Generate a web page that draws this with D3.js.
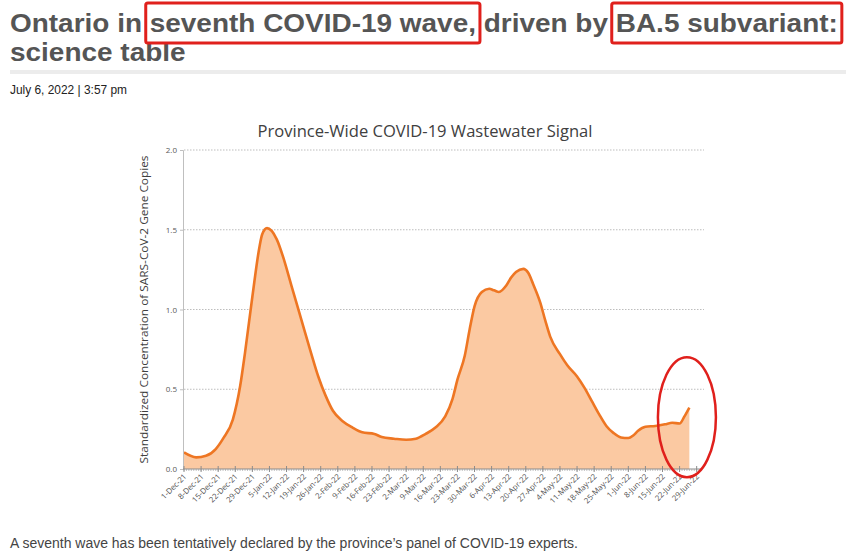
<!DOCTYPE html>
<html lang="en">
<head>
<meta charset="UTF-8">
<title>Province-Wide COVID-19 Wastewater Signal</title>
<style>
  html, body { margin: 0; padding: 0; background: #fff; }
  svg { display: block; }
  .grid line { stroke: #bdbdbd; stroke-dasharray: 1.5,1.5; }
  .ylab { font: 8px "Open Sans", sans-serif; fill: #595959; }
  .xlab { font: 7.8px "Open Sans", sans-serif; fill: #505050; }
</style>
</head>
<body>
<script src="https://d3js.org/d3.v7.min.js"></script>
<script>
// wastewater signal
const dates = [
  "2021-12-01","2021-12-06","2021-12-10","2021-12-14","2021-12-17","2021-12-21",
  "2021-12-24","2021-12-26","2021-12-29","2022-01-01","2022-01-02","2022-01-04",
  "2022-01-08","2022-01-11","2022-01-14","2022-01-18","2022-01-22","2022-01-25",
  "2022-01-28","2022-01-31","2022-02-04","2022-02-08","2022-02-12","2022-02-17",
  "2022-02-20","2022-02-25","2022-03-02","2022-03-06","2022-03-10","2022-03-14",
  "2022-03-18","2022-03-21","2022-03-23","2022-03-26","2022-03-28","2022-03-30",
  "2022-04-02","2022-04-05","2022-04-07","2022-04-09","2022-04-12","2022-04-14",
  "2022-04-16","2022-04-19","2022-04-21","2022-04-23","2022-04-26","2022-04-28",
  "2022-04-30","2022-05-04","2022-05-07","2022-05-11","2022-05-14","2022-05-17",
  "2022-05-20","2022-05-23","2022-05-26","2022-05-29","2022-06-01","2022-06-03",
  "2022-06-05","2022-06-08","2022-06-12","2022-06-16","2022-06-19","2022-06-22",
  "2022-06-24","2022-06-26"
];
const signal = [
  0.104,0.073,0.083,0.125,0.19,0.31,
  0.52,0.73,1.08,1.40,1.47,1.51,
  1.44,1.31,1.15,0.94,0.73,0.58,
  0.46,0.365,0.30,0.26,0.23,0.22,
  0.20,0.19,0.183,0.19,0.22,0.26,
  0.33,0.44,0.56,0.71,0.875,1.02,
  1.11,1.13,1.12,1.11,1.15,1.20,
  1.235,1.255,1.23,1.16,1.04,0.93,
  0.83,0.72,0.65,0.58,0.51,0.427,
  0.344,0.27,0.225,0.198,0.194,0.21,
  0.24,0.265,0.27,0.28,0.29,0.285,
  0.33,0.385
];
const yTicks = [0, 0.5, 1.0, 1.5, 2.0];
const xStart = "2021-12-01", xEnd = "2022-07-02", lastLabel = "2022-06-29";

const headline = [
  ["Ontario in ", false],
  ["seventh COVID-19 wave,", true],
  [" driven by ", false],
  ["BA.5 subvariant:", true]
];
const headline2 = "science table";
const byline = "July 6, 2022 | 3:57 pm";
const caption = "A seventh wave has been tentatively declared by the province\u2019s panel of COVID-19 experts.";
const chartTitle = "Province-Wide COVID-19 Wastewater Signal";
const yTitle = "Standardized Concentration of SARS-CoV-2 Gene Copies";

const W = 853, H = 553;
const parse = d3.timeParse("%Y-%m-%d");
const fmt = d3.timeFormat("%-d-%b-%y");
const data = dates.map((d, i) => ({ date: parse(d), v: signal[i] }));

const svg = d3.select("body").append("svg")
  .attr("width", W).attr("height", H);

// ---- page header ----
const headFont = "bold 25.5px 'Liberation Sans', Arial, sans-serif";
const hg = svg.append("g");
const ht = hg.append("text")
  .attr("x", 0).attr("y", 32.5)
  .style("font", headFont)
  .style("fill", "#555")
  .attr("xml:space", "preserve");
headline.forEach(s => ht.append("tspan").text(s[0]));
const fullLen = ht.node().getComputedTextLength();
const sx = 828 / fullLen;
hg.attr("transform", `translate(10,0) scale(${sx},1)`);
hg.append("text")
  .attr("x", 0).attr("y", 61)
  .style("font", headFont)
  .style("fill", "#555")
  .text(headline2);

// red boxes around the highlighted phrases
let offset = 0;
headline.forEach(s => {
  const n = s[0].length;
  if (s[1]) {
    const x0 = ht.node().getStartPositionOfChar(offset).x;
    const len = ht.node().getSubStringLength(offset, n);
    hg.append("rect")
      .attr("x", x0 - 4 / sx).attr("y", 3)
      .attr("width", len + 8 / sx).attr("height", 40)
      .attr("rx", 2)
      .attr("fill", "none")
      .attr("stroke", "#e0201c")
      .attr("stroke-width", 3)
      .attr("vector-effect", "non-scaling-stroke");
  }
  offset += n;
});

svg.append("rect")
  .attr("x", 10).attr("y", 70).attr("width", 836).attr("height", 4)
  .attr("fill", "#ececec");

svg.append("text")
  .attr("x", 10).attr("y", 94)
  .attr("textLength", 117).attr("lengthAdjust", "spacingAndGlyphs")
  .style("font", "12px 'Liberation Sans', Arial, sans-serif")
  .style("fill", "#222")
  .text(byline);

svg.append("text")
  .attr("x", 10).attr("y", 548)
  .attr("textLength", 568).attr("lengthAdjust", "spacingAndGlyphs")
  .style("font", "14px 'Liberation Sans', Arial, sans-serif")
  .style("fill", "#444")
  .text(caption);

// ---- chart ----
const x = d3.scaleTime()
  .domain([parse(xStart), parse(xEnd)])
  .range([184, 704]);
const y = d3.scaleLinear().domain([0, 2]).range([469, 150]);

svg.append("text")
  .attr("x", 425).attr("y", 137)
  .attr("text-anchor", "middle")
  .attr("textLength", 335).attr("lengthAdjust", "spacingAndGlyphs")
  .style("font", "16px 'Open Sans', sans-serif")
  .style("fill", "#404040")
  .text(chartTitle);

svg.append("text")
  .attr("transform", `translate(148,${(y(0) + y(2)) / 2}) rotate(-90)`)
  .attr("text-anchor", "middle")
  .attr("textLength", 308).attr("lengthAdjust", "spacingAndGlyphs")
  .style("font", "11px 'Open Sans', sans-serif")
  .style("fill", "#404040")
  .text(yTitle);

// gridlines
svg.append("g").attr("class", "grid")
  .selectAll("line")
  .data(yTicks.filter(t => t > 0))
  .join("line")
  .attr("x1", 184).attr("x2", 704)
  .attr("y1", d => y(d)).attr("y2", d => y(d));

// area + line
const area = d3.area()
  .x(d => x(d.date)).y0(y(0)).y1(d => y(d.v))
  .curve(d3.curveMonotoneX);
const line = d3.line()
  .x(d => x(d.date)).y(d => y(d.v))
  .curve(d3.curveMonotoneX);

svg.append("path").datum(data)
  .attr("d", area)
  .attr("fill", "#fbc9a2");
svg.append("path").datum(data)
  .attr("d", line)
  .attr("fill", "none")
  .attr("stroke", "#ee7623")
  .attr("stroke-width", 2.6)
  .attr("stroke-linejoin", "round");

// y axis
const yAxis = d3.axisLeft(y).tickValues(yTicks).tickFormat(d3.format(".1f")).tickSize(3);
const yg = svg.append("g").attr("transform", "translate(183,0)").call(yAxis);
yg.select(".domain").attr("stroke", "#bfbfbf");
yg.selectAll(".tick line").attr("stroke", "#bfbfbf");
yg.selectAll(".tick text").attr("class", "ylab").attr("x", -6);

// x axis: daily minor ticks, weekly major ticks
const days = d3.timeDay.range(parse(xStart), parse(xEnd));
const weeks = d3.timeDay.range(parse(xStart), d3.timeDay.offset(parse(lastLabel), 1), 7);
const xg = svg.append("g").attr("transform", `translate(0,${y(0)})`);
xg.append("line")
  .attr("x1", 183).attr("x2", 702)
  .attr("stroke", "#8c8c8c").attr("stroke-width", 1.2);
xg.selectAll("line.minor").data(days).join("line")
  .attr("class", "minor")
  .attr("x1", d => x(d)).attr("x2", d => x(d))
  .attr("y1", 0).attr("y2", 2)
  .attr("stroke", "#9a9a9a").attr("stroke-width", 0.6);
xg.selectAll("line.major").data(weeks).join("line")
  .attr("class", "major")
  .attr("x1", d => x(d)).attr("x2", d => x(d))
  .attr("y1", -3).attr("y2", 3)
  .attr("stroke", "#8c8c8c").attr("stroke-width", 1);
xg.selectAll("text").data(weeks).join("text")
  .attr("class", "xlab")
  .attr("text-anchor", "end")
  .attr("transform", d => `translate(${x(d) + 3},${8}) rotate(-45)`)
  .text(d => fmt(d));

// red ellipse annotation around the latest uptick
svg.append("ellipse")
  .attr("cx", x(parse("2022-06-25")))
  .attr("cy", y(0.325))
  .attr("rx", 29).attr("ry", 60)
  .attr("fill", "none")
  .attr("stroke", "#e0201c")
  .attr("stroke-width", 2.5);
</script>
</body>
</html>
